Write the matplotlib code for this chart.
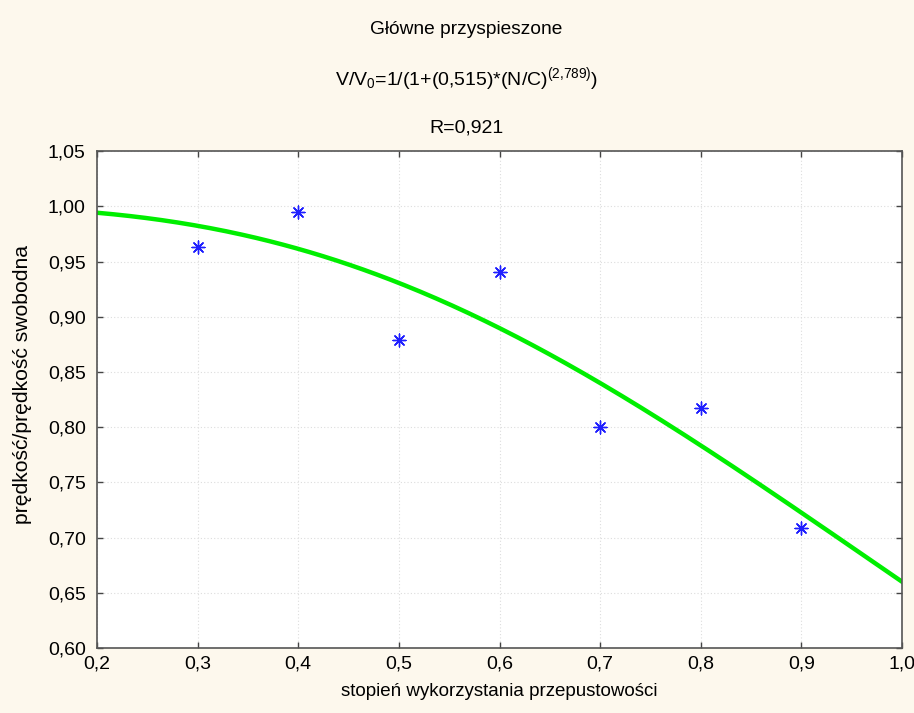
import numpy as np
import matplotlib
matplotlib.use("Agg")
import matplotlib.pyplot as plt

# measured points
utilisation = [0.3, 0.4, 0.5, 0.6, 0.7, 0.8, 0.9]
speed_ratio = [0.963, 0.995, 0.879, 0.941, 0.800, 0.817, 0.709]

# fitted model V/V0 = 1 / (1 + a * x^b)
fit_a = 0.515
fit_b = 2.789
fit_r = 0.921

x_ticks = [0.2, 0.3, 0.4, 0.5, 0.6, 0.7, 0.8, 0.9, 1.0]
y_ticks = [0.60, 0.65, 0.70, 0.75, 0.80, 0.85, 0.90, 0.95, 1.00, 1.05]

FAMILY = ["Liberation Sans", "DejaVu Sans"]

plt.rcParams["font.family"] = FAMILY
plt.rcParams["mathtext.fontset"] = "custom"
plt.rcParams["mathtext.rm"] = "Liberation Sans"
plt.rcParams["mathtext.it"] = "Liberation Sans"


def comma(v, digits):
    return f"{v:.{digits}f}".replace(".", ",")


fig = plt.figure(figsize=(9.14, 7.13), dpi=100, facecolor="#fdf8ed")
ax = fig.add_axes([0.106, 0.091, 0.881, 0.697])
ax.set_facecolor("white")

xs = np.linspace(0.2, 1.0, 300)
ax.plot(xs, 1.0 / (1.0 + fit_a * xs ** fit_b), color="#00ee00", linewidth=3.2, zorder=2)
ax.scatter(utilisation, speed_ratio, marker=(8, 2, 0), s=85, color="#1f1fff",
           linewidths=1.0, zorder=3)

ax.set_xlim(0.2, 1.0)
ax.set_ylim(0.60, 1.05)
ax.set_xticks(x_ticks)
ax.set_yticks(y_ticks)
ax.set_xticklabels([comma(v, 1) for v in x_ticks], fontsize=14)
ax.set_yticklabels([comma(v, 2) for v in y_ticks], fontsize=14)
ax.tick_params(direction="in", length=4, width=1, color="#444444",
               top=True, right=True)
ax.tick_params(axis="x", pad=5)
ax.tick_params(axis="y", pad=8)
ax.grid(True, linestyle=(0, (1, 2)), color="#dddddd", linewidth=0.8)
for spine in ax.spines.values():
    spine.set_color("#555555")
    spine.set_linewidth(1.2)

ax.set_xlabel("stopień wykorzystania przepustowości", fontsize=13.5, labelpad=8)
ax.set_ylabel("prędkość/prędkość swobodna", fontsize=15.2)
ax.yaxis.set_label_coords(-0.08, 0.53)

title_x = 0.51
fig.text(title_x, 0.958, "Główne przyspieszone", ha="center", va="center", fontsize=13.8)
fig.text(title_x, 0.889,
         r"V/V$_\mathregular{0}$=1/(1+(" + comma(fit_a, 3) + r")*(N/C)$^\mathregular{("
         + comma(fit_b, 3).replace(",", "{,}") + r")}$)",
         ha="center", va="center", fontsize=14)
fig.text(title_x, 0.82, "R=" + comma(fit_r, 3), ha="center", va="center", fontsize=14)

fig.savefig("out.png", dpi=100, facecolor=fig.get_facecolor())
